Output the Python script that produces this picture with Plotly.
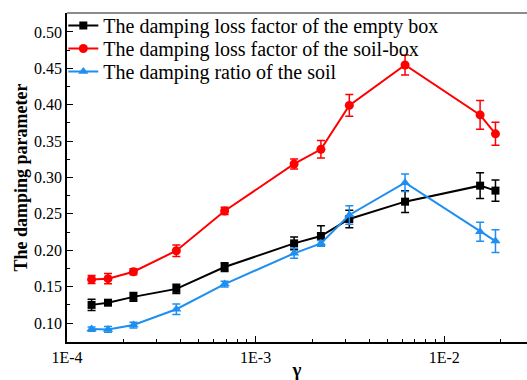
import plotly.graph_objects as go

gamma = [1.35e-4, 1.65e-4, 2.25e-4, 3.8e-4, 6.85e-4, 1.6e-3, 2.22e-3, 3.14e-3, 6.2e-3, 1.55e-2, 1.87e-2]

empty_box = [0.125, 0.128, 0.136, 0.147, 0.177, 0.2095, 0.2196, 0.243, 0.2668, 0.2888, 0.282]
empty_box_err = [0.0078, 0.003, 0.006, 0.0064, 0.006, 0.0087, 0.014, 0.012, 0.015, 0.0176, 0.0147]

soil_box = [0.160, 0.161, 0.1705, 0.1994, 0.254, 0.3186, 0.3387, 0.399, 0.4546, 0.386, 0.360]
soil_box_err = [0.0055, 0.007, 0.004, 0.008, 0.005, 0.0069, 0.012, 0.015, 0.0137, 0.0197, 0.0158]

soil_ratio = [0.0917, 0.0913, 0.0973, 0.119, 0.1536, 0.1958, 0.2095, 0.2485, 0.2929, 0.2255, 0.2127]
soil_ratio_err = [0.003, 0.004, 0.004, 0.0073, 0.004, 0.0069, 0.004, 0.0126, 0.012, 0.013, 0.0156]

names = ["The damping loss factor of the empty box",
         "The damping loss factor of the soil-box",
         "The damping ratio of the soil"]

x_tickvals = [1e-4, 1e-3, 1e-2]
x_ticktext = ["1E-4", "1E-3", "1E-2"]
y_tickvals = [0.10, 0.15, 0.20, 0.25, 0.30, 0.35, 0.40, 0.45, 0.50]

FONT = "'Liberation Serif', 'Times New Roman', Times, serif"
BLUE = "#1E8FF0"

fig = go.Figure()
series = [
    (empty_box, empty_box_err, "black", "square", 8, "legend"),
    (soil_box, soil_box_err, "#FF0000", "circle", 9, "legend2"),
    (soil_ratio, soil_ratio_err, BLUE, "triangle-up", 9, "legend3"),
]
for (vals, errs, col, sym, sz, lg), nm in zip(series, names):
    fig.add_trace(go.Scatter(
        x=gamma, y=vals, mode="lines+markers", name=nm, legend=lg,
        line=dict(color=col, width=2),
        marker=dict(color=col, symbol=sym, size=sz),
        error_y=dict(type="data", array=errs, visible=True, color=col, thickness=1.5, width=4),
    ))

minor_x = [m * 10.0 ** e for e in (-4, -3, -2) for m in range(2, 10)]
minor_y = [round(0.075 + 0.05 * i, 3) for i in range(10)]

def leg(yv):
    return dict(x=-0.008, y=yv, xanchor="left", yanchor="middle",
                bgcolor="rgba(0,0,0,0)", font=dict(family=FONT, size=20))

fig.update_layout(
    width=527, height=380,
    margin=dict(l=67, r=0, t=13, b=38),
    paper_bgcolor="white", plot_bgcolor="white",
    font=dict(family=FONT, size=16, color="black"),
    showlegend=True,
    legend=leg(0.962), legend2=leg(0.892), legend3=leg(0.822),
    xaxis=dict(type="log", range=[-4, -1.561],
               tickvals=x_tickvals, ticktext=x_ticktext,
               ticks="inside", ticklen=6, tickwidth=1, tickcolor="black",
               showline=True, linecolor="black", linewidth=1.5,
               showgrid=False, zeroline=False,
               tickfont=dict(family=FONT, size=16),
               minor=dict(tickvals=minor_x, ticks="inside", ticklen=3, tickcolor="black", showgrid=False),
               title=dict(text="<b>γ</b>", font=dict(family=FONT, size=19), standoff=2)),
    yaxis=dict(range=[0.074, 0.526], tickvals=y_tickvals, tickformat=".2f",
               ticks="inside", ticklen=6, tickwidth=1, tickcolor="black",
               showline=True, linecolor="black", linewidth=1.5,
               showgrid=False, zeroline=False,
               tickfont=dict(family=FONT, size=16),
               minor=dict(tickvals=minor_y, ticks="inside", ticklen=3, tickcolor="black", showgrid=False),
               title=dict(text="<b>The damping parameter</b>", font=dict(family=FONT, size=18), standoff=2)),
    shapes=[dict(type="line", xref="paper", yref="paper", x0=0, x1=1, y0=1, y1=1,
                 line=dict(color="#666666", width=1.5))],
)

fig.write_html("out.html")
